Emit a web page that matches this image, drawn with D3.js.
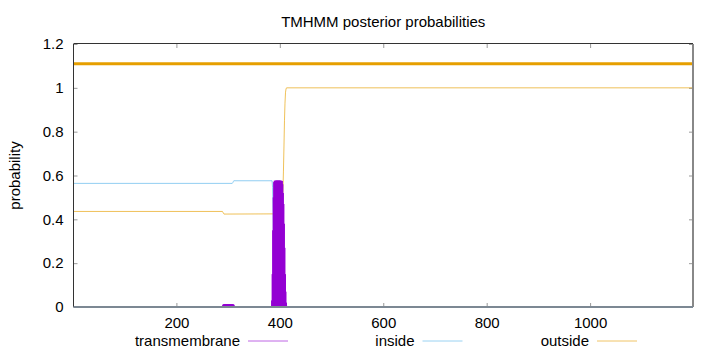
<!DOCTYPE html>
<html>
<head>
<meta charset="utf-8">
<script src="https://cdn.jsdelivr.net/npm/d3@7"></script>
<style>
body { margin: 0; background: #fff; }
</style>
</head>
<body>
<div id="chart"></div>
<script>
// Data (residue position, probability)
const seqLength = 1199;

// transmembrane: drawn as impulses, only the non-zero residues
const tmPos = [290, 291, 292, 293, 294, 295, 296, 297, 298, 299, 300, 301, 302, 303, 304, 305, 306, 307, 308, 309, 310, 311,
  386, 387, 388, 389, 390, 391, 392, 393, 394, 395, 396, 397, 398, 399, 400, 401, 402, 403, 404, 405, 406, 407, 408, 409, 410, 411, 412];
const tmVal = [0.004, 0.008, 0.012, 0.012, 0.012, 0.012, 0.012, 0.012, 0.012, 0.012, 0.012, 0.012, 0.012, 0.012, 0.012, 0.012, 0.012, 0.012, 0.012, 0.012, 0.008, 0.004,
  0.03, 0.15, 0.35, 0.5, 0.57, 0.576, 0.576, 0.576, 0.576, 0.576, 0.576, 0.576, 0.576, 0.576, 0.576, 0.576, 0.576, 0.575, 0.56, 0.52, 0.47, 0.38, 0.27, 0.15, 0.07, 0.02, 0.005];

// inside: breakpoints of the line
const insidePos = [1, 308, 309, 310, 311, 385, 386, 387, 388, 389, 390, 391, 1199];
const insideVal = [0.564, 0.564, 0.567, 0.572, 0.576, 0.576, 0.546, 0.426, 0.226, 0.076, 0.006, 0, 0];

// outside: breakpoints of the line
const outsidePos = [1, 289, 290, 291, 292, 403, 404, 405, 406, 407, 408, 409, 410, 411, 412, 413, 1199];
const outsideVal = [0.436, 0.436, 0.432, 0.428, 0.424, 0.425, 0.44, 0.48, 0.53, 0.62, 0.73, 0.85, 0.93, 0.98, 0.995, 1, 1];

// predicted topology bar at the top
const topologyLevel = 1.11;

const xTicks = [200, 400, 600, 800, 1000];
const yTicks = [0, 0.2, 0.4, 0.6, 0.8, 1, 1.2];

const seriesNames = ["transmembrane", "inside", "outside"];
const seriesColors = ["#9400d3", "#56b4e9", "#e69f00"];

// Layout
const width = 720, height = 352;
const plotLeft = 73.5, plotRight = 693, plotTop = 44, plotBottom = 307;
const font = "'Liberation Sans', Arial, sans-serif";

const svg = d3.select("#chart")
  .append("svg")
  .attr("width", width)
  .attr("height", height)
  .style("font-family", font);

const x = d3.scaleLinear().domain([1, seqLength]).range([plotLeft, plotRight]);
const y = d3.scaleLinear().domain([0, 1.2]).range([plotBottom, plotTop]);

// Title
svg.append("text")
  .attr("x", (plotLeft + plotRight) / 2)
  .attr("y", 27)
  .attr("text-anchor", "middle")
  .style("font-size", "15px")
  .attr("fill", "#000")
  .text("TMHMM posterior probabilities");

// Y label
svg.append("text")
  .attr("transform", `translate(20,${(plotTop + plotBottom) / 2}) rotate(-90)`)
  .attr("text-anchor", "middle")
  .style("font-size", "15px")
  .text("probability");

// Axes (inward ticks, mirrored)
const xAxis = svg.append("g")
  .attr("transform", `translate(0,${plotBottom})`)
  .call(d3.axisBottom(x).tickValues(xTicks).tickSizeInner(-4).tickSizeOuter(0).tickPadding(10)
    .tickFormat(d3.format("d")));
const yAxis = svg.append("g")
  .attr("transform", `translate(${plotLeft},0)`)
  .call(d3.axisLeft(y).tickValues(yTicks).tickSizeInner(-4).tickSizeOuter(0).tickPadding(10)
    .tickFormat(d => String(+d.toFixed(1))));
const xTop = svg.append("g")
  .attr("transform", `translate(0,${plotTop})`)
  .call(d3.axisTop(x).tickValues(xTicks).tickSizeInner(-4).tickSizeOuter(0).tickFormat(""));
const yRight = svg.append("g")
  .attr("transform", `translate(${plotRight},0)`)
  .call(d3.axisRight(y).tickValues(yTicks).tickSizeInner(-4).tickSizeOuter(0).tickFormat(""));

[xAxis, yAxis, xTop, yRight].forEach(g => {
  g.select(".domain").remove();
  g.selectAll("line").attr("stroke", "#999");
  g.selectAll("text").style("font-size", "15px").style("font-family", font).attr("fill", "#000");
});

// Topology bar
svg.append("line")
  .attr("x1", x(1)).attr("x2", x(seqLength))
  .attr("y1", y(topologyLevel)).attr("y2", y(topologyLevel))
  .attr("stroke", "#e69f00")
  .attr("stroke-width", 3);

// inside / outside lines
const line = d3.line().x(d => x(d[0])).y(d => y(d[1]));

svg.append("path")
  .datum(outsidePos.map((p, i) => [p, outsideVal[i]]))
  .attr("d", line)
  .attr("fill", "none")
  .attr("stroke", seriesColors[2])
  .attr("stroke-opacity", 0.65)
  .attr("stroke-width", 1);

svg.append("path")
  .datum(insidePos.map((p, i) => [p, insideVal[i]]))
  .attr("d", line)
  .attr("fill", "none")
  .attr("stroke", seriesColors[1])
  .attr("stroke-opacity", 0.65)
  .attr("stroke-width", 1);

// transmembrane impulses
svg.selectAll(".tm")
  .data(tmPos.map((p, i) => [p, tmVal[i]]))
  .enter()
  .append("line")
  .attr("class", "tm")
  .attr("x1", d => x(d[0])).attr("x2", d => x(d[0]))
  .attr("y1", y(0)).attr("y2", d => y(d[1]))
  .attr("stroke", seriesColors[0])
  .attr("stroke-width", 3);

// Frame
svg.append("line").attr("x1", plotLeft).attr("x2", plotLeft).attr("y1", plotTop).attr("y2", plotBottom)
  .attr("stroke", "#333").attr("stroke-width", 1);
svg.append("line").attr("x1", plotLeft).attr("x2", plotRight).attr("y1", plotTop - 0.5).attr("y2", plotTop - 0.5)
  .attr("stroke", "#333").attr("stroke-width", 1);
svg.append("line").attr("x1", plotRight).attr("x2", plotRight).attr("y1", plotTop).attr("y2", plotBottom)
  .attr("stroke", "#888").attr("stroke-width", 2);
svg.append("line").attr("x1", plotLeft).attr("x2", plotRight).attr("y1", plotBottom).attr("y2", plotBottom)
  .attr("stroke", "#7c8893").attr("stroke-width", 2);

// Legend
const legend = svg.selectAll(".key")
  .data(seriesNames)
  .enter()
  .append("g")
  .attr("class", "key")
  .attr("transform", (d, i) => `translate(${240 + i * 174.5},0)`);

legend.append("text")
  .attr("x", 0)
  .attr("y", 346)
  .attr("text-anchor", "end")
  .style("font-size", "15px")
  .text(d => d);

legend.append("line")
  .attr("x1", 8).attr("x2", 48)
  .attr("y1", 341).attr("y2", 341)
  .attr("stroke", (d, i) => seriesColors[i])
  .attr("stroke-opacity", 0.6)
  .attr("stroke-width", 1);
</script>
</body>
</html>
